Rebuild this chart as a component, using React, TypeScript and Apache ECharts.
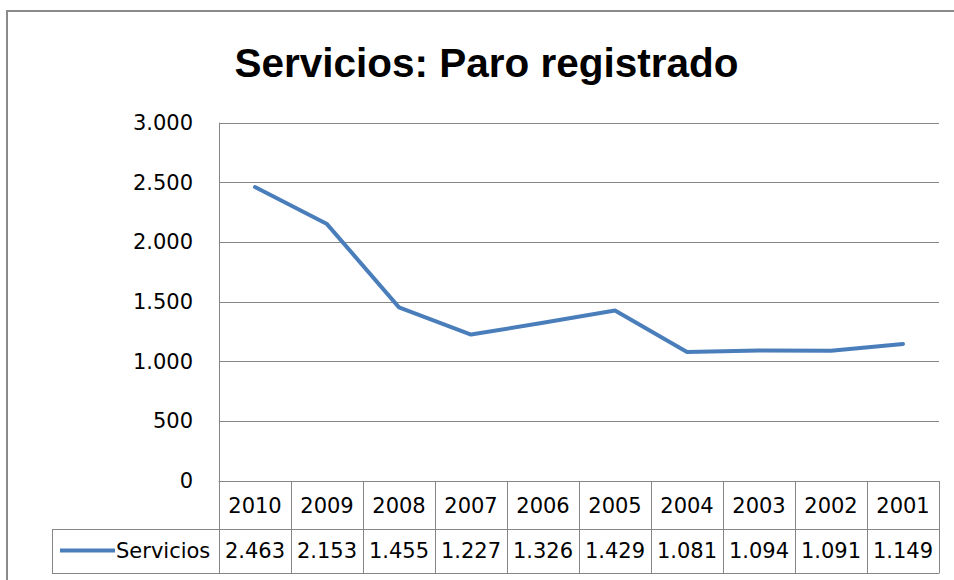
import React, { useEffect, useRef } from "react";
import * as echarts from "echarts";

const title = "Servicios: Paro registrado";
const seriesName = "Servicios";
const years = ["2010", "2009", "2008", "2007", "2006", "2005", "2004", "2003", "2002", "2001"];
const values = [2463, 2153, 1455, 1227, 1326, 1429, 1081, 1094, 1091, 1149];
const yTicks = { min: 0, max: 3000, interval: 500 };

const fmt = (v: number) => String(Math.round(v)).replace(/\B(?=(\d{3})+(?!\d))/g, ".");

const FONT = "DejaVu Sans";
const GRID_COLOR = "#868686";
const LINE_COLOR = "#4a7ebb";

export default function App() {
  const ref = useRef<HTMLDivElement>(null);
  useEffect(() => {
    document.body.style.margin = "0";
    const chart = echarts.init(ref.current!, undefined, { renderer: "svg" });
    const gridLeft = 219;
    const gridRight = 939;
    const axisY = 481;
    const rowY = 529;
    const bottomY = 573;
    chart.setOption({
      animation: false,
      backgroundColor: "#ffffff",
      grid: { left: gridLeft, right: 954 - gridRight, top: 123, bottom: 580 - axisY, containLabel: false },
      legend: {
        data: [seriesName],
        left: 60,
        top: 540,
        padding: 0,
        icon: "rect",
        itemWidth: 55,
        itemHeight: 4,
        itemGap: 0,
        textStyle: { fontFamily: FONT, fontSize: 21, color: "#000", padding: [0, 0, 0, -4] },
      },
      xAxis: [
        {
          type: "category",
          data: years,
          position: "bottom",
          boundaryGap: true,
          axisLine: { show: true, lineStyle: { color: GRID_COLOR, width: 1 } },
          axisTick: { show: true, length: bottomY - axisY, lineStyle: { color: GRID_COLOR, width: 1 } },
          axisLabel: { interval: 0, fontFamily: FONT, fontSize: 21, color: "#000", margin: 14 },
          splitLine: { show: false },
        },
        {
          type: "category",
          data: values.map(fmt),
          position: "bottom",
          offset: rowY - axisY,
          boundaryGap: true,
          axisLine: { show: true, lineStyle: { color: GRID_COLOR, width: 1 } },
          axisTick: { show: false },
          axisLabel: { interval: 0, fontFamily: FONT, fontSize: 21, color: "#000", margin: 11 },
          splitLine: { show: false },
        },
      ],
      yAxis: {
        type: "value",
        min: yTicks.min,
        max: yTicks.max,
        interval: yTicks.interval,
        axisLine: { show: true, lineStyle: { color: GRID_COLOR, width: 1 } },
        axisTick: { show: false },
        axisLabel: { fontFamily: FONT, fontSize: 21, color: "#000", margin: 26, formatter: (v: number) => fmt(v) },
        splitLine: { show: true, lineStyle: { color: GRID_COLOR, width: 1 } },
      },
      series: [
        {
          name: seriesName,
          type: "line",
          xAxisIndex: 0,
          data: values,
          symbol: "none",
          itemStyle: { color: LINE_COLOR },
          lineStyle: { color: LINE_COLOR, width: 4, cap: "round", join: "round" },
        },
      ],
      graphic: [
        {
          type: "text",
          x: 486.5,
          y: 62.5,
          style: {
            text: title,
            font: 'bold 40.5px "Liberation Sans"',
            fill: "#000",
            textAlign: "center",
            textVerticalAlign: "middle",
          },
        },
        { type: "line", shape: { x1: 7, y1: 10, x2: 7, y2: 580 }, style: { stroke: "#8a8a8a", lineWidth: 2 } },
        { type: "line", shape: { x1: 6, y1: 11, x2: 954, y2: 11 }, style: { stroke: "#8a8a8a", lineWidth: 2 } },
        { type: "line", shape: { x1: 52.5, y1: rowY, x2: 52.5, y2: bottomY }, style: { stroke: GRID_COLOR, lineWidth: 1 } },
        { type: "line", shape: { x1: 52, y1: rowY + 0.5, x2: gridLeft, y2: rowY + 0.5 }, style: { stroke: GRID_COLOR, lineWidth: 1 } },
        { type: "line", shape: { x1: 52, y1: bottomY + 0.5, x2: gridRight + 0.5, y2: bottomY + 0.5 }, style: { stroke: GRID_COLOR, lineWidth: 1 } },
      ],
    });
    return () => chart.dispose();
  }, []);
  return <div ref={ref} style={{ width: 954, height: 580 }} />;
}
